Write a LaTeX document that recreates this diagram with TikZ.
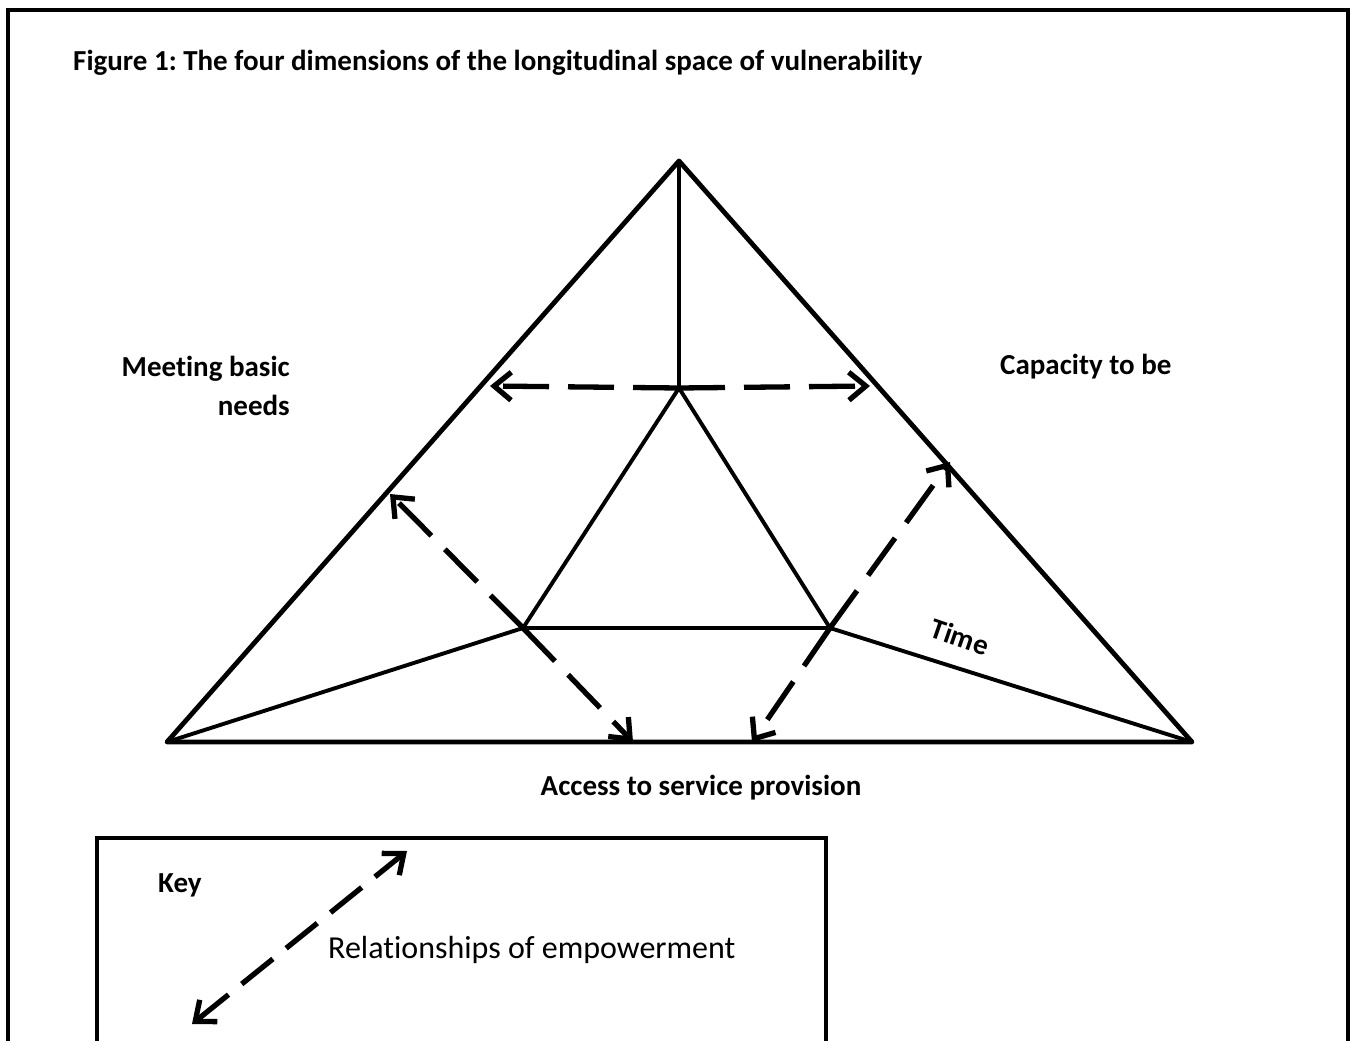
\documentclass[tikz,border=0pt]{standalone}
\usepackage{fontspec}
\setmainfont{Carlito}[Ligatures=NoCommon]
\usetikzlibrary{arrows.meta}
\frenchspacing
\begin{document}
\begin{tikzpicture}[x=1pt,y=-1pt,
  solidline/.style={line width=4.8pt,line cap=round,line join=round},
  innerline/.style={line width=3.9pt,line cap=round,line join=round},
  relarrow/.style={line width=5.3pt,dash pattern=on 46pt off 19pt,
     -{Straight Barb[length=17pt,width=28pt,line width=5.3pt]}},
  keyarrow/.style={line width=5.3pt,dash pattern=on 40pt off 17pt,
     {Straight Barb[length=17pt,width=28pt,line width=5.3pt]}-{Straight Barb[length=17pt,width=28pt,line width=5.3pt]}},
  lbl/.style={font=\bfseries\fontsize{29}{39}\selectfont,inner sep=0pt}
]
\useasboundingbox (0,0) rectangle (1357,1041);
\fill[white] (0,0) rectangle (1357,1041);
% outer frame (open at bottom)
\draw[line width=4.3pt] (8,1045) -- (8,10) -- (1348,10) -- (1348,1045);
% title
\node[lbl,anchor=west] (title) at (73,63) {Figure 1: The four dimensions of the longitudinal space of vulnerability};
% points
\coordinate (apex) at (679,161);
\coordinate (bl) at (167,742);
\coordinate (br) at (1192,742);
\coordinate (it) at (679,388);
\coordinate (il) at (523,628);
\coordinate (ir) at (830,628);
% arrow targets
\coordinate (tl) at (490,386);
\coordinate (tr) at (870,386);
\coordinate (ul) at (390,494);
\coordinate (ur) at (950,462);
\coordinate (dl) at (633,742);
\coordinate (dr) at (752,742);
% outer triangle
\draw[solidline] (apex) -- (bl) -- (br) -- cycle;
% inner structure
\draw[innerline] (apex) -- (it);
\draw[innerline] (it) -- (il) -- (ir) -- cycle;
\draw[innerline] (il) -- (bl);
\draw[innerline] (ir) -- (br);
% relationship arrows
\draw[relarrow] (it) -- (tl);
\draw[relarrow] (it) -- (tr);
\draw[relarrow] (il) -- (ul);
\draw[relarrow] (il) -- (dl);
\draw[relarrow] (ir) -- (ur);
\draw[relarrow] (ir) -- (dr);
% labels
\node[lbl,align=right,anchor=east] (meet) at (290,386) {Meeting basic\\needs};
\node[lbl,anchor=west] (cap) at (1000,367) {Capacity to be};
\node[lbl] (access) at (701,788) {Access to service provision};
\node[lbl,rotate=-19] (time) at (960,637) {Time};
% key box (open at bottom)
\draw[line width=4.3pt] (97,1045) -- (97,838) -- (826,838) -- (826,1045);
\node[lbl,anchor=west] (key) at (158,885) {Key};
\coordinate (ka) at (192,1024);
\coordinate (kb) at (407,851);
\draw[keyarrow] (ka) -- (kb);
\node[font=\fontsize{32}{38}\selectfont,anchor=west,inner sep=0pt] (rel) at (328,950) {Relationships of empowerment};
\end{tikzpicture}
\end{document}
